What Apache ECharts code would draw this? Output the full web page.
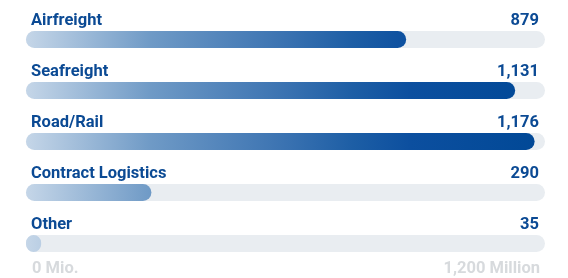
<!DOCTYPE html>
<html><head><meta charset="utf-8">
<script src="https://cdn.jsdelivr.net/npm/echarts@6/dist/echarts.min.js"></script>
<style>html,body{margin:0;padding:0;background:#fff}#c{width:568px;height:278px}</style>
</head><body><div id="c"></div>
<script>
const categories = ['Airfreight', 'Seafreight', 'Road/Rail', 'Contract Logistics', 'Other'];
const values = [879, 1131, 1176, 290, 35];
const valueLabels = ['879', '1,131', '1,176', '290', '35'];
const axisMin = 0, axisMax = 1200;
const axisTickLabels = ['0 Mio.', '1,200 Million'];

const chart = echarts.init(document.getElementById('c'), null, {renderer: 'canvas'});
const labelFont = {fontFamily: 'Roboto', fontWeight: 'bold', fontSize: 16.5, color: '#0b4a94'};
chart.setOption({
  animation: false,
  grid: {left: 26, right: 23, top: 14, bottom: 9, containLabel: false},
  xAxis: {
    type: 'value', min: axisMin, max: axisMax, interval: axisMax,
    splitLine: {show: false}, axisLine: {show: false}, axisTick: {show: false},
    axisLabel: {
      margin: 0, verticalAlign: 'middle', alignMinLabel: 'left', alignMaxLabel: 'right',
      padding: [0, 5, 0, 6],
      fontFamily: 'Roboto', fontWeight: 'bold', fontSize: 16.5, color: '#d7dadd',
      formatter: v => v === axisMin ? axisTickLabels[0] : axisTickLabels[1]
    }
  },
  yAxis: [
    {type: 'category', data: categories, inverse: true, z: 5,
     axisLine: {show: false}, axisTick: {show: false},
     axisLabel: Object.assign({show: true, interval: 0, hideOverlap: false, inside: true, margin: 5,
       verticalAlign: 'bottom', lineHeight: 18, padding: [0, 0, 10, 0]}, labelFont)},
    {type: 'category', data: valueLabels, inverse: true, position: 'right', z: 5,
     axisLine: {show: false}, axisTick: {show: false},
     axisLabel: Object.assign({show: true, interval: 0, hideOverlap: false, inside: true, margin: 6,
       verticalAlign: 'bottom', lineHeight: 18, padding: [0, 0, 10, 0]}, labelFont)}
  ],
  series: [{
    type: 'bar', data: values, barWidth: 17, yAxisIndex: 0,
    showBackground: true,
    backgroundStyle: {color: '#e9edf1', borderRadius: 9},
    itemStyle: {
      borderRadius: 9,
      color: {type: 'linear', x: 26, y: 0, x2: 545, y2: 0, global: true,
        colorStops: [
          {offset: 0, color: '#c5d6e8'},
          {offset: 0.24, color: '#6f9ac6'},
          {offset: 0.5, color: '#3a72b1'},
          {offset: 0.63, color: '#1d5ea5'},
          {offset: 0.74, color: '#0c4f9f'},
          {offset: 1, color: '#004896'}
        ]}
    }
  }]
});
</script></body></html>
